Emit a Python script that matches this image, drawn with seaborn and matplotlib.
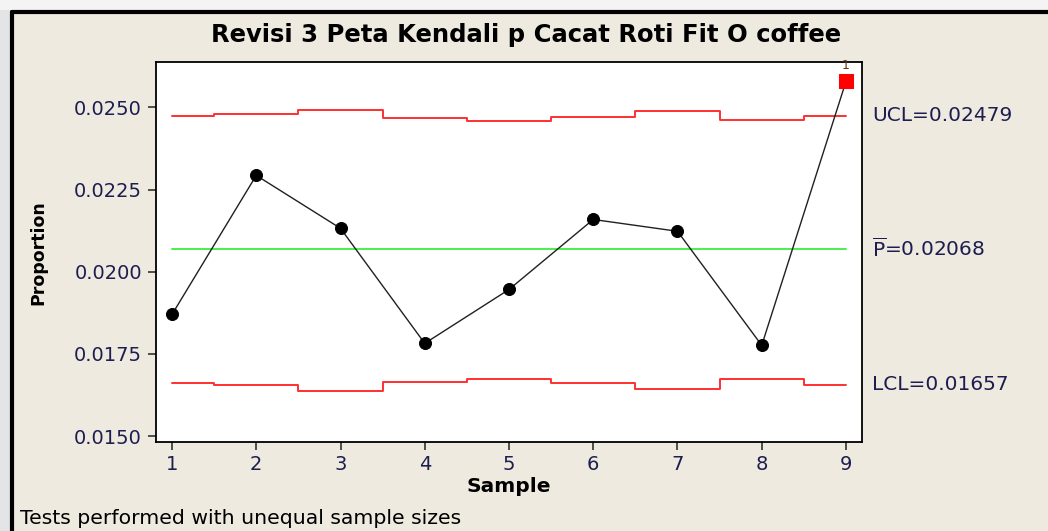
import numpy as np
import pandas as pd
import seaborn as sns
import matplotlib
matplotlib.use("Agg")
import matplotlib.pyplot as plt
from matplotlib.patches import Rectangle
from matplotlib.lines import Line2D

# ---- data ----
samples = [1, 2, 3, 4, 5, 6, 7, 8, 9]
proportion = [0.01870, 0.02293, 0.02132, 0.01782, 0.01946, 0.02159, 0.02123, 0.01776, 0.02579]
ucl = [0.02475, 0.02481, 0.02493, 0.02468, 0.02458, 0.02471, 0.02488, 0.02462, 0.02475]
lcl = [0.01661, 0.01656, 0.01638, 0.01664, 0.01673, 0.01661, 0.01643, 0.01673, 0.01656]
p_bar = 0.02068
ucl_label = "UCL=0.02479"
pbar_label = r"$\overline{\mathrm{P}}$=0.02068"
lcl_label = "LCL=0.01657"
yticks = [0.0150, 0.0175, 0.0200, 0.0225, 0.0250]
ytick_labels = ["0.0150", "0.0175", "0.0200", "0.0225", "0.0250"]
out_of_control = [False, False, False, False, False, False, False, False, True]
title = "Revisi 3 Peta Kendali p Cacat Roti Fit O coffee"
footer = "Tests performed with unequal sample sizes"

sns.set_style("white")
plt.rcParams['font.family'] = ['DejaVu Sans']
plt.rcParams['mathtext.fontset'] = 'dejavusans'

BG = "#EEEAE0"
TXT = "#1d1d4f"

fig = plt.figure(figsize=(10.48, 5.31), dpi=100, facecolor=BG)
W, H = 1048, 531

# outer screenshot margins + black frame
fig.patches.append(Rectangle((0, 0), 10 / W, 1, transform=fig.transFigure,
                             facecolor="#E3E4E6", edgecolor="none", zorder=0))
fig.patches.append(Rectangle((0, 1 - 10 / H), 1, 10 / H, transform=fig.transFigure,
                             facecolor="#F4F4F4", edgecolor="none", zorder=0))
fig.lines.append(Line2D([11.5 / W, 11.5 / W], [0, 1 - 11.5 / H], transform=fig.transFigure,
                        color="black", lw=3, zorder=1))
fig.lines.append(Line2D([11.5 / W, 1], [1 - 11.5 / H, 1 - 11.5 / H], transform=fig.transFigure,
                        color="black", lw=3, zorder=1))

L, R, T, B = 156, 862, 62, 442
ax = fig.add_axes([L / W, 1 - B / H, (R - L) / W, (B - T) / H])
ax.set_facecolor("white")

df = pd.DataFrame({"Sample": samples, "Proportion": proportion, "ooc": out_of_control})

# step limits: change half-way between samples
xs = []
ys_u = []
ys_l = []
for i, s in enumerate(samples):
    left = s - 0.5 if i > 0 else s
    right = s + 0.5 if i < len(samples) - 1 else s
    xs += [left, right]
    ys_u += [ucl[i], ucl[i]]
    ys_l += [lcl[i], lcl[i]]
lim_df = pd.DataFrame({"x": xs, "ucl": ys_u, "lcl": ys_l})
sns.lineplot(data=lim_df, x="x", y="ucl", ax=ax, color="#FF3030", lw=1.4, sort=False,
             estimator=None)
sns.lineplot(data=lim_df, x="x", y="lcl", ax=ax, color="#FF3030", lw=1.4, sort=False,
             estimator=None)
ax.plot([samples[0], samples[-1]], [p_bar, p_bar], color="#4CEE4C", lw=1.4)

sns.lineplot(data=df, x="Sample", y="Proportion", ax=ax, color="#202020", lw=1.0,
             estimator=None, sort=False)
sns.scatterplot(data=df[~df["ooc"]], x="Sample", y="Proportion", ax=ax, color="black",
                s=75, marker="o", edgecolor="black", zorder=5)
sns.scatterplot(data=df[df["ooc"]], x="Sample", y="Proportion", ax=ax, color="#FF0000",
                s=90, marker="s", edgecolor="#FF0000", zorder=5)
for s, p, o in zip(samples, proportion, out_of_control):
    if o:
        ax.annotate("1", (s, p), xytext=(0, 7), textcoords="offset points",
                    ha="center", va="bottom", fontsize=9, color="#5a3a1a")

ax.set_xlim(0.81, 9.19)
ax.set_ylim(0.01482, 0.02638)
ax.set_xticks(samples)
ax.set_xticklabels([str(s) for s in samples])
ax.set_yticks(yticks)
ax.set_yticklabels(ytick_labels)
ax.tick_params(axis="both", direction="out", length=6, width=1.2, color="#333333",
               labelsize=14, labelcolor=TXT, left=True, bottom=True)
ax.tick_params(axis="x", pad=3)
ax.tick_params(axis="y", pad=4)
for sp in ax.spines.values():
    sp.set_color("black")
    sp.set_linewidth(1.3)

ax.set_xlabel("Sample", fontsize=14.5, fontweight="bold", color="black")
ax.set_ylabel("Proportion", fontsize=12.5, fontweight="bold", color="black")
ax.xaxis.set_label_coords((509 - L) / (R - L), -(477 - B) / (B - T))
ax.yaxis.set_label_coords(-(L - 47) / (R - L), (B - 253) / (B - T))

# limit labels at the right
trans = ax.get_yaxis_transform()
xo = 1 + 10 / (R - L)
ax.text(xo, ucl[-1], ucl_label, transform=trans, ha="left", va="center", fontsize=14.5, color=TXT)
ax.text(xo, p_bar, pbar_label, transform=trans, ha="left", va="center", fontsize=14.5, color=TXT)
ax.text(xo, lcl[-1], lcl_label, transform=trans, ha="left", va="center", fontsize=14.5, color=TXT)

fig.text(526 / W, 1 - 35 / H, title, ha="center", va="center", fontsize=17.5,
         fontweight="bold", color="black")
fig.text(20 / W, 1 - 519 / H, footer, ha="left", va="center", fontsize=14.7, color="black")

fig.savefig("out.png", dpi=100, facecolor=BG)
